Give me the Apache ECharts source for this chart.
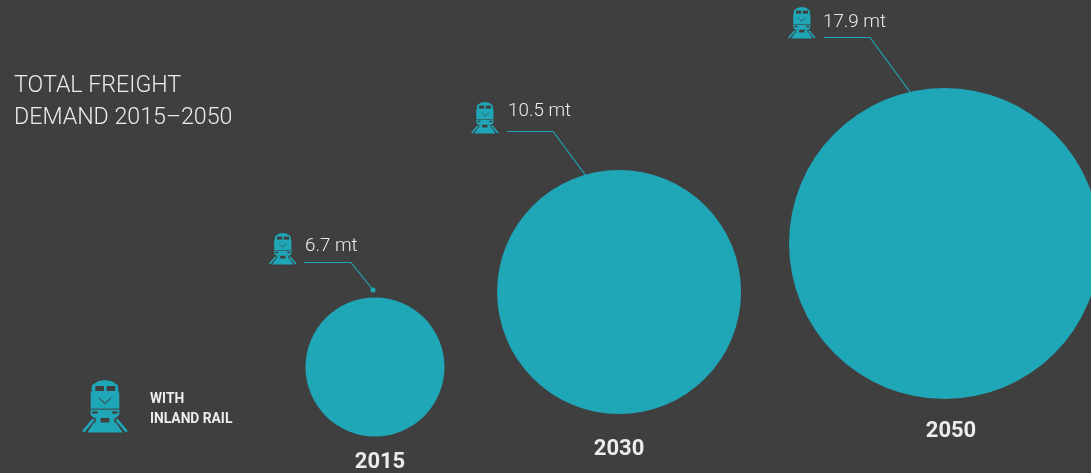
<!DOCTYPE html>
<html>
<head>
<meta charset="utf-8">
<style>html,body{margin:0;padding:0;background:#3f3f3f}#chart{width:1091px;height:473px}</style>
<script src="https://cdn.jsdelivr.net/npm/echarts@6/dist/echarts.min.js"></script>
</head>
<body>
<div id="chart"></div>
<script>
// Freight demand by year
const years = [2015, 2030, 2050];
const demandMt = [6.7, 10.5, 17.9];
const unit = 'mt';
const titleLines = ['TOTAL FREIGHT', 'DEMAND 2015\u20132050'];
const legendLines = ['WITH', 'INLAND RAIL'];

// Bubble layout: vertical centre on the canvas and diameter
const centreY = [367, 292, 243.5];
const diameters = [139, 244, 311];

// Callout geometry, offset from each bubble's centre
const iconOffset = [[-106, -134], [-148, -190], [-156.5, -236.5]];
const textOffset = [[-70, -121], [-111, -181], [-121.5, -221]];
const leaderOffset = [
  [[-71, -104.5], [-24, -104.5], [-2, -77]],
  [[-112, -160.5], [-66, -160.5], [-33, -116]],
  [[-120.5, -206], [-74.5, -206], [-34.5, -151.5]]
];
const yearLabelPos = [[5, 95], [0, 157], [6.5, 188]];

const TEAL = '#1fa6b7';
const BG = '#3f3f3f';
const INK = '#ececec';

// Locomotive pictogram on a 138 x 160 design grid
function trainIcon(x, y, s) {
  const poly = (pts, fill) => ({
    type: 'polygon',
    shape: { points: pts.map(p => [x + p[0] * s, y + p[1] * s]) },
    style: { fill }
  });
  return {
    type: 'group',
    children: [
      // cab and hood
      poly([[48, 4], [69, 0], [90, 4], [108, 16], [110, 38], [112, 38], [112, 104], [102, 114], [36, 114], [26, 104], [26, 38], [28, 38], [30, 16]], TEAL),
      // windscreens
      poly([[40, 18], [66, 18], [66, 33], [40, 33]], BG),
      poly([[74, 18], [100, 18], [100, 33], [74, 33]], BG),
      // nose chevron
      poly([[50, 51], [69, 69], [88, 51], [88, 54], [69, 73], [50, 54]], BG),
      // bumper line and headlamps
      poly([[26, 86], [112, 86], [112, 89], [26, 89]], BG),
      poly([[31, 94], [47, 94], [47, 101], [31, 101]], BG),
      poly([[91, 94], [107, 94], [107, 101], [91, 101]], BG),
      // wheels
      poly([[41, 114], [56, 114], [56, 130], [41, 130]], TEAL),
      poly([[82, 114], [97, 114], [97, 130], [82, 130]], TEAL),
      // rails and track bed
      poly([[0, 153], [31, 116], [38, 120], [7, 158]], TEAL),
      poly([[138, 153], [107, 116], [100, 120], [131, 158]], TEAL),
      poly([[16, 158], [36, 128], [102, 128], [122, 158]], TEAL)
    ]
  };
}

const chart = echarts.init(document.getElementById('chart'), null, { renderer: 'canvas' });
chart.setOption({
  backgroundColor: BG,
  animation: false,
  grid: { left: 375, width: 569.5, top: 0, height: 473 },
  xAxis: { type: 'value', min: 2015, max: 2050, show: false },
  yAxis: { type: 'value', min: 0, max: 473, inverse: true, show: false },
  series: [
    {
      type: 'scatter',
      clip: false,
      data: years.map((yr, i) => [yr, centreY[i], demandMt[i]]),
      symbolSize: (v, p) => diameters[p.dataIndex],
      itemStyle: { color: TEAL, opacity: 1 }
    },
    {
      type: 'custom',
      clip: false,
      data: years.map((yr, i) => [yr, centreY[i], demandMt[i]]),
      renderItem(params, api) {
        const i = params.dataIndex;
        const c = api.coord([api.value(0), api.value(1)]);
        const at = o => [c[0] + o[0], c[1] + o[1]];
        const icon = at(iconOffset[i]);
        const text = at(textOffset[i]);
        const pts = leaderOffset[i].map(at);
        const yearPos = at(yearLabelPos[i]);
        const kids = [
          trainIcon(icon[0], icon[1], 0.2),
          {
            type: 'text',
            style: {
              x: text[0], y: text[1],
              text: api.value(2).toFixed(1) + ' ' + unit,
              fill: INK,
              font: '300 18.8px Roboto',
              verticalAlign: 'middle'
            }
          },
          {
            type: 'polyline',
            shape: { points: pts },
            style: { stroke: TEAL, lineWidth: 1.2, fill: null }
          },
          {
            type: 'text',
            style: {
              x: yearPos[0], y: yearPos[1],
              text: String(api.value(0)),
              fill: INK,
              font: 'bold 22px Roboto',
              align: 'center',
              verticalAlign: 'middle'
            }
          }
        ];
        if (i === 0) {
          kids.push({
            type: 'circle',
            shape: { cx: pts[2][0], cy: pts[2][1], r: 2.5 },
            style: { fill: TEAL }
          });
        }
        return { type: 'group', children: kids };
      }
    }
  ],
  graphic: [
    {
      type: 'text', left: 14, top: 70,
      style: { text: titleLines.join('\n'), fill: INK, font: '300 23.2px Roboto', lineHeight: 32 }
    },
    trainIcon(82, 380, 0.333),
    {
      type: 'text', left: 150, top: 390,
      style: { text: legendLines.join('\n'), fill: INK, font: 'bold 13.8px Roboto', lineHeight: 20 }
    }
  ]
});
</script>
</body>
</html>
